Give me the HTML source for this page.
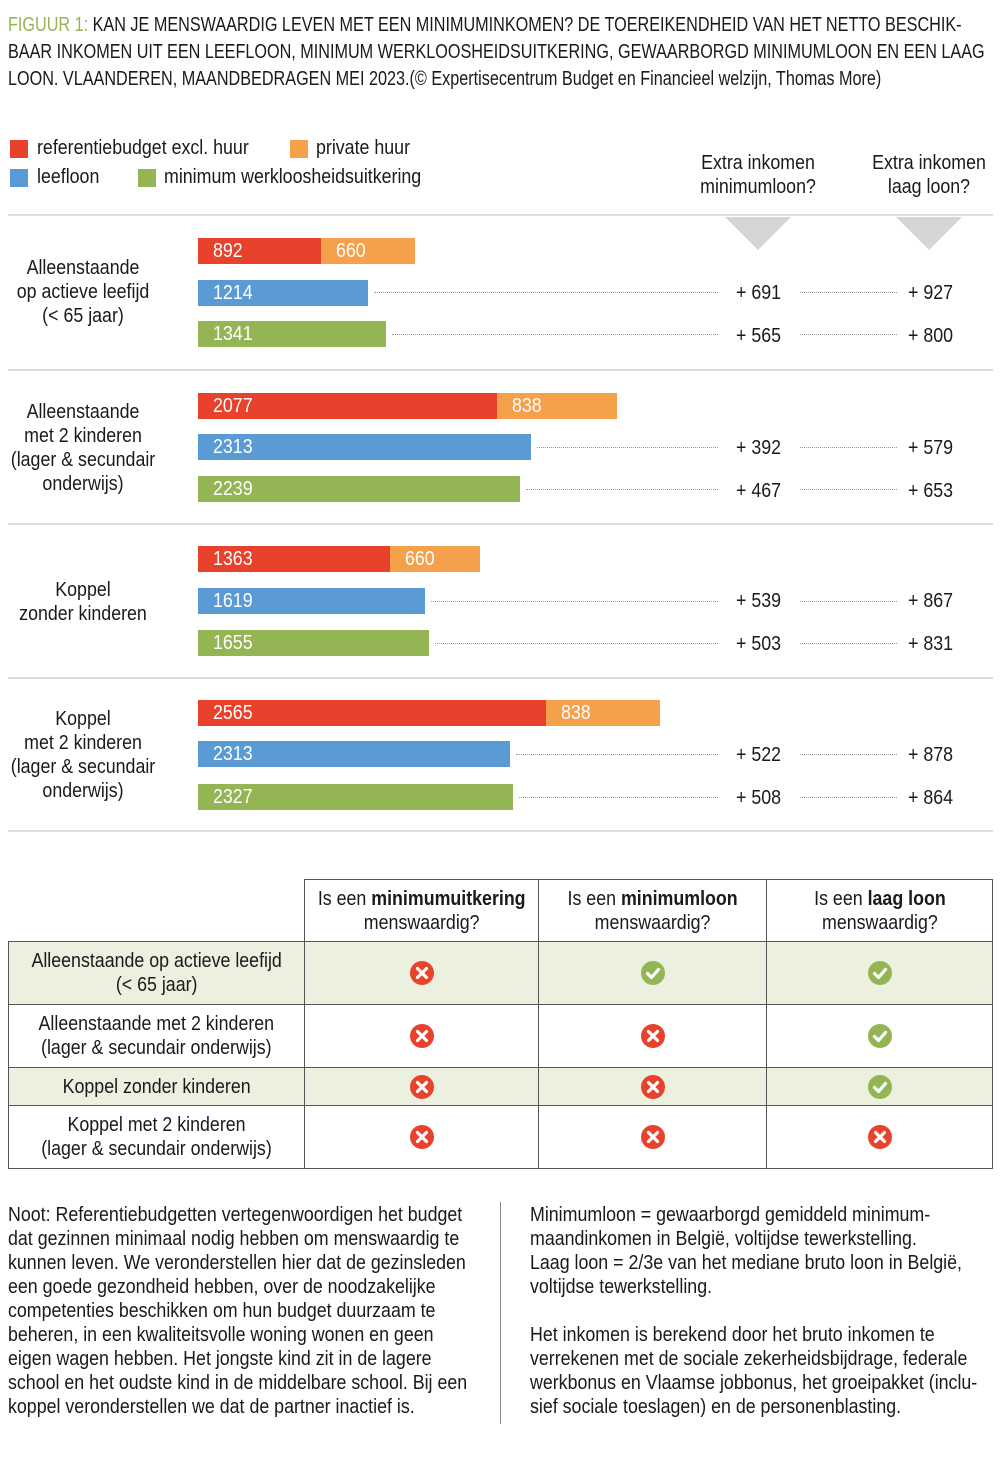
<!DOCTYPE html>
<html><head><meta charset="utf-8"><style>
*{margin:0;padding:0;box-sizing:border-box}
body{width:1000px;height:1466px;background:#fff;position:relative;font-family:"Liberation Sans",sans-serif;color:#1a1a1a;font-size:20px;overflow:hidden}
.a{position:absolute;white-space:nowrap;line-height:24px;transform:scaleX(.89);transform-origin:left top}
.c{text-align:center;transform:translateX(-50%) scaleX(.89);transform-origin:center top}
.bar{position:absolute;height:26px}
.r{background:#e8412c}.o{background:#f5a04b}.b{background:#5b9bd5}.g{background:#93b553}
.v{position:absolute;color:#fff;line-height:26px;font-size:20px;transform:scaleX(.89);transform-origin:left top}
.dot{position:absolute;border-top:1.5px dotted #9a9a9a;height:0}
.hr{position:absolute;left:8px;width:985px;height:2px;background:#ddd}
.tri{position:absolute;width:0;height:0;border-left:33px solid transparent;border-right:33px solid transparent;border-top:33px solid #d5d5d5}
.sq{position:absolute;width:18px;height:18px}
table{position:absolute;left:8px;top:879px;border-collapse:collapse;width:985px;table-layout:fixed}
td{border:1px solid #555;text-align:center;font-size:20px;line-height:24px;vertical-align:middle;white-space:nowrap;overflow:visible}
td span{display:inline-block;transform:scaleX(.89)}
td svg{display:block;margin:0 auto}
.gr td{background:#ebf0df}
</style></head><body>
<div class="a" style="left:8px;top:12px;line-height:27px;font-size:20px;transform:scaleX(.81)"><span style="color:#93b553">FIGUUR 1:</span> KAN JE MENSWAARDIG LEVEN MET EEN MINIMUMINKOMEN? DE TOEREIKENDHEID VAN HET NETTO BESCHIK-<br>BAAR INKOMEN UIT EEN LEEFLOON, MINIMUM WERKLOOSHEIDSUITKERING, GEWAARBORGD MINIMUMLOON EN EEN LAAG<br>LOON. VLAANDEREN, MAANDBEDRAGEN MEI 2023.(© Expertisecentrum Budget en Financieel welzijn, Thomas More)</div>

<div class="sq r" style="left:10px;top:140px"></div><div class="a" style="left:37px;top:136px">referentiebudget excl. huur</div>
<div class="sq o" style="left:290px;top:140px"></div><div class="a" style="left:316px;top:136px">private huur</div>
<div class="sq b" style="left:10px;top:169px"></div><div class="a" style="left:37px;top:165px">leefloon</div>
<div class="sq g" style="left:138px;top:169px"></div><div class="a" style="left:164px;top:165px">minimum werkloosheidsuitkering</div>
<div class="a c" style="left:758px;top:151px">Extra inkomen<br>minimumloon?</div>
<div class="a c" style="left:929px;top:151px">Extra inkomen<br>laag loon?</div>

<div class="hr" style="top:214px"></div><div class="hr" style="top:369px"></div><div class="hr" style="top:523px"></div><div class="hr" style="top:677px"></div><div class="hr" style="top:830px"></div>
<div class="tri" style="left:725px;top:217px"></div><div class="tri" style="left:896px;top:217px"></div>

<div class="a c" style="left:83px;top:256px">Alleenstaande<br>op actieve leefijd<br>(&lt; 65 jaar)</div>
<div class="a c" style="left:83px;top:400px">Alleenstaande<br>met 2 kinderen<br>(lager &amp; secundair<br>onderwijs)</div>
<div class="a c" style="left:83px;top:578px">Koppel<br>zonder kinderen</div>
<div class="a c" style="left:83px;top:707px">Koppel<br>met 2 kinderen<br>(lager &amp; secundair<br>onderwijs)</div>

<!-- G1 -->
<div class="bar r" style="left:198px;top:238px;width:123px"></div><div class="bar o" style="left:321px;top:238px;width:94px"></div>
<div class="v" style="left:213px;top:238px">892</div><div class="v" style="left:336px;top:238px">660</div>
<div class="bar b" style="left:198px;top:280px;width:170px"></div><div class="v" style="left:213px;top:280px">1214</div>
<div class="bar g" style="left:198px;top:321px;width:188px"></div><div class="v" style="left:213px;top:321px">1341</div>
<div class="dot" style="left:374px;width:344px;top:292px"></div><div class="dot" style="left:392px;width:326px;top:334px"></div>
<!-- G2 -->
<div class="bar r" style="left:198px;top:393px;width:299px"></div><div class="bar o" style="left:497px;top:393px;width:120px"></div>
<div class="v" style="left:213px;top:393px">2077</div><div class="v" style="left:512px;top:393px">838</div>
<div class="bar b" style="left:198px;top:434px;width:333px"></div><div class="v" style="left:213px;top:434px">2313</div>
<div class="bar g" style="left:198px;top:476px;width:322px"></div><div class="v" style="left:213px;top:476px">2239</div>
<div class="dot" style="left:537px;width:181px;top:447px"></div><div class="dot" style="left:526px;width:192px;top:489px"></div>
<!-- G3 -->
<div class="bar r" style="left:198px;top:546px;width:192px"></div><div class="bar o" style="left:390px;top:546px;width:90px"></div>
<div class="v" style="left:213px;top:546px">1363</div><div class="v" style="left:405px;top:546px">660</div>
<div class="bar b" style="left:198px;top:588px;width:227px"></div><div class="v" style="left:213px;top:588px">1619</div>
<div class="bar g" style="left:198px;top:630px;width:231px"></div><div class="v" style="left:213px;top:630px">1655</div>
<div class="dot" style="left:431px;width:287px;top:601px"></div><div class="dot" style="left:435px;width:283px;top:643px"></div>
<!-- G4 -->
<div class="bar r" style="left:198px;top:700px;width:348px"></div><div class="bar o" style="left:546px;top:700px;width:114px"></div>
<div class="v" style="left:213px;top:700px">2565</div><div class="v" style="left:561px;top:700px">838</div>
<div class="bar b" style="left:198px;top:741px;width:312px"></div><div class="v" style="left:213px;top:741px">2313</div>
<div class="bar g" style="left:198px;top:784px;width:315px"></div><div class="v" style="left:213px;top:784px">2327</div>
<div class="dot" style="left:516px;width:202px;top:754px"></div><div class="dot" style="left:519px;width:199px;top:797px"></div>

<!-- extra values -->
<div class="a" style="left:736px;top:281px">+ 691</div><div class="a" style="left:908px;top:281px">+ 927</div>
<div class="a" style="left:736px;top:324px">+ 565</div><div class="a" style="left:908px;top:324px">+ 800</div>
<div class="a" style="left:736px;top:436px">+ 392</div><div class="a" style="left:908px;top:436px">+ 579</div>
<div class="a" style="left:736px;top:479px">+ 467</div><div class="a" style="left:908px;top:479px">+ 653</div>
<div class="a" style="left:736px;top:589px">+ 539</div><div class="a" style="left:908px;top:589px">+ 867</div>
<div class="a" style="left:736px;top:632px">+ 503</div><div class="a" style="left:908px;top:632px">+ 831</div>
<div class="a" style="left:736px;top:743px">+ 522</div><div class="a" style="left:908px;top:743px">+ 878</div>
<div class="a" style="left:736px;top:786px">+ 508</div><div class="a" style="left:908px;top:786px">+ 864</div>
<div class="dot" style="left:800px;width:97px;top:292px"></div><div class="dot" style="left:800px;width:97px;top:334px"></div>
<div class="dot" style="left:800px;width:97px;top:447px"></div><div class="dot" style="left:800px;width:97px;top:489px"></div>
<div class="dot" style="left:800px;width:97px;top:601px"></div><div class="dot" style="left:800px;width:97px;top:643px"></div>
<div class="dot" style="left:800px;width:97px;top:754px"></div><div class="dot" style="left:800px;width:97px;top:797px"></div>

<svg width="0" height="0" style="position:absolute"><defs>
<symbol id="x" viewBox="0 0 24 24"><circle cx="12" cy="12" r="12" fill="#e8412c"/><path d="M7.5 7.5L16.5 16.5M16.5 7.5L7.5 16.5" stroke="#fff" stroke-width="3.2" stroke-linecap="round"/></symbol>
<symbol id="k" viewBox="0 0 24 24"><circle cx="12" cy="12" r="12" fill="#93b553"/><path d="M6.5 12.5L10.5 16.5L17.5 8.5" stroke="#fff" stroke-width="3.2" fill="none" stroke-linecap="round" stroke-linejoin="round"/></symbol>
</defs></svg>

<table>
<colgroup><col style="width:296px"><col style="width:234px"><col style="width:228px"><col></colgroup>
<tr style="height:62px"><td style="border:none;border-bottom:1px solid #555"></td><td><span>Is een <b>minimumuitkering</b><br>menswaardig?</span></td><td><span>Is een <b>minimumloon</b><br>menswaardig?</span></td><td><span>Is een <b>laag loon</b><br>menswaardig?</span></td></tr>
<tr class="gr" style="height:63px"><td><span>Alleenstaande op actieve leefijd<br>(&lt; 65 jaar)</span></td><td><svg width="24" height="24"><use href="#x"/></svg></td><td><svg width="24" height="24"><use href="#k"/></svg></td><td><svg width="24" height="24"><use href="#k"/></svg></td></tr>
<tr style="height:63px"><td><span>Alleenstaande met 2 kinderen<br>(lager &amp; secundair onderwijs)</span></td><td><svg width="24" height="24"><use href="#x"/></svg></td><td><svg width="24" height="24"><use href="#x"/></svg></td><td><svg width="24" height="24"><use href="#k"/></svg></td></tr>
<tr class="gr" style="height:38px"><td><span>Koppel zonder kinderen</span></td><td><svg width="24" height="24"><use href="#x"/></svg></td><td><svg width="24" height="24"><use href="#x"/></svg></td><td><svg width="24" height="24"><use href="#k"/></svg></td></tr>
<tr style="height:63px"><td><span>Koppel met 2 kinderen<br>(lager &amp; secundair onderwijs)</span></td><td><svg width="24" height="24"><use href="#x"/></svg></td><td><svg width="24" height="24"><use href="#x"/></svg></td><td><svg width="24" height="24"><use href="#x"/></svg></td></tr>
</table>

<div class="a" style="left:8px;top:1203px">Noot: Referentiebudgetten vertegenwoordigen het budget<br>dat gezinnen minimaal nodig hebben om menswaardig te<br>kunnen leven. We veronderstellen hier dat de gezinsleden<br>een goede gezondheid hebben, over de noodzakelijke<br>competenties beschikken om hun budget duurzaam te<br>beheren, in een kwaliteitsvolle woning wonen en geen<br>eigen wagen hebben. Het jongste kind zit in de lagere<br>school en het oudste kind in de middelbare school. Bij een<br>koppel veronderstellen we dat de partner inactief is.</div>
<div style="position:absolute;left:500px;top:1202px;width:1px;height:222px;background:#888"></div>
<div class="a" style="left:530px;top:1203px">Minimumloon = gewaarborgd gemiddeld minimum-<br>maandinkomen in België, voltijdse tewerkstelling.<br>Laag loon = 2/3e van het mediane bruto loon in België,<br>voltijdse tewerkstelling.<br><br>Het inkomen is berekend door het bruto inkomen te<br>verrekenen met de sociale zekerheidsbijdrage, federale<br>werkbonus en Vlaamse jobbonus, het groeipakket (inclu-<br>sief sociale toeslagen) en de personenblasting.</div>
</body></html>
